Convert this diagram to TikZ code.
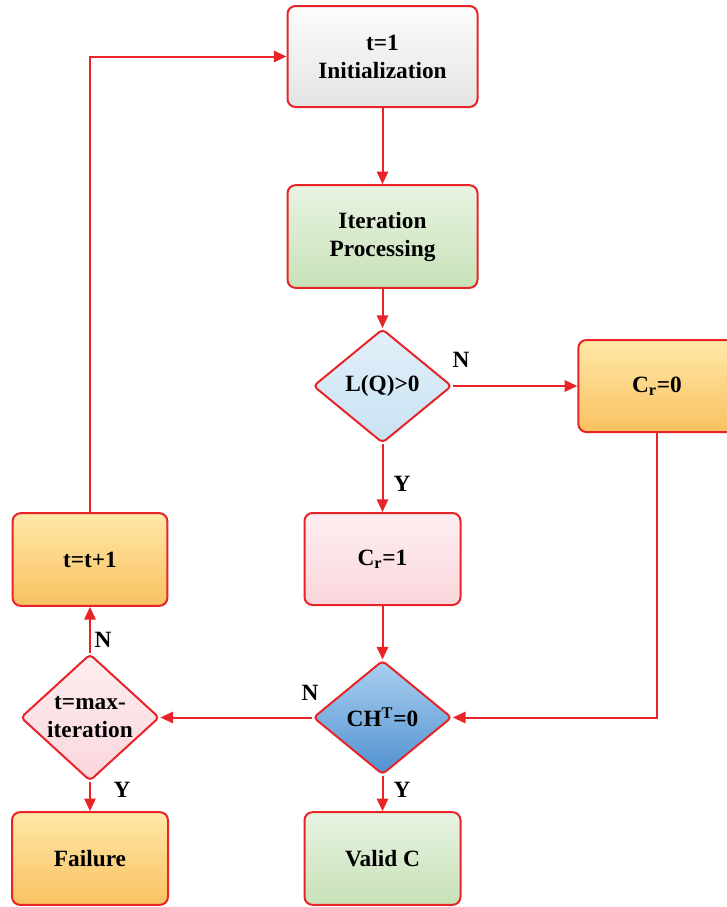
\documentclass[tikz,border=0pt]{standalone}
\usepackage{fontspec}
\setmainfont{Liberation Serif}
\usetikzlibrary{shapes.geometric,arrows.meta}

\definecolor{lnred}{RGB}{232,36,40}
\definecolor{grayT}{RGB}{252,252,252}
\definecolor{grayB}{RGB}{228,228,228}
\definecolor{greenT}{RGB}{232,243,226}
\definecolor{greenB}{RGB}{200,226,184}
\definecolor{orangeT}{RGB}{255,232,168}
\definecolor{orangeB}{RGB}{249,193,96}
\definecolor{pinkT}{RGB}{253,238,240}
\definecolor{pinkB}{RGB}{250,214,220}
\definecolor{lblueT}{RGB}{226,240,250}
\definecolor{lblueB}{RGB}{200,226,242}
\definecolor{dblueT}{RGB}{170,208,240}
\definecolor{dblueB}{RGB}{80,145,208}

\tikzset{
	box/.style={draw=lnred, line width=1.5pt, rounded corners=6pt, align=center, inner sep=0pt, font=\fontsize{17.5}{21}\selectfont\bfseries},
	decision/.style={diamond, draw=lnred, line width=1.5pt, rounded corners=3pt, align=center, inner sep=0pt, minimum width=104pt, minimum height=85.5pt, font=\fontsize{17.5}{21}\selectfont\bfseries},
	arr/.style={draw=lnred, line width=1.5pt, -{Triangle[length=9.5pt,width=8.5pt]}},
	lbl/.style={inner sep=0pt, font=\fontsize{17.5}{20}\selectfont\bfseries}
}

\begin{document}
\begin{tikzpicture}[x=0.75pt,y=0.75pt,yscale=-1]
	\useasboundingbox (0,0) rectangle (726,907);
	
	% Boxes
	\node[box, top color=grayT, bottom color=grayB, minimum width=142.5pt, minimum height=75.75pt] (init) at (382.5,56.5) {t=1\\Initialization};
	\node[box, top color=greenT, bottom color=greenB, minimum width=142.5pt, minimum height=77pt] (iter) at (382.5,236.5) {Iteration\\Processing};
	\node[box, top color=orangeT, bottom color=orangeB, minimum width=118pt, minimum height=69pt] (cr0) at (657,386) {C\textsubscript{r}=0};
	\node[box, top color=pinkT, bottom color=pinkB, minimum width=117pt, minimum height=69pt] (cr1) at (382.5,559) {C\textsubscript{r}=1};
	\node[box, top color=orangeT, bottom color=orangeB, minimum width=116pt, minimum height=69.5pt] (tinc) at (90,559.5) {t=t+1};
	\node[box, top color=orangeT, bottom color=orangeB, minimum width=117pt, minimum height=69.5pt] (fail) at (90,858.5) {Failure};
	\node[box, top color=greenT, bottom color=greenB, minimum width=117pt, minimum height=69.5pt] (valid) at (382.5,858.5) {Valid C};
	
	% Decisions
	\node[decision, top color=lblueT, bottom color=lblueB] (lq) at (382.5,386) {L(Q)>0};
	\node[decision, top color=dblueT, bottom color=dblueB] (ch) at (382.5,717.5) {CH\textsuperscript{T}=0};
	\node[decision, top color=pinkT, bottom color=pinkB] (tmax) at (90,717.5) {t=max-\\iteration};
	
	% Connectors
	\draw[arr] (init) -- (iter);
	\draw[arr] (iter) -- (lq);
	\draw[arr] (lq) -- (cr0);
	\draw[arr] (lq) -- (cr1);
	\draw[arr] (cr1) -- (ch);
	\draw[arr] (cr0.south) |- (ch.east);
	\draw[arr] (ch) -- (tmax);
	\draw[arr] (ch) -- (valid);
	\draw[arr] (tmax) -- (tinc);
	\draw[arr] (tmax) -- (fail);
	\draw[arr] (tinc.north) |- (init.west);
	
	% Text Node
	\node[lbl] (nlq) at (461,360) {N};
	\node[lbl] (ylq) at (402,484) {Y};
	\node[lbl] (nch) at (310,693) {N};
	\node[lbl] (ych) at (402,790) {Y};
	\node[lbl] (ntm) at (103,640) {N};
	\node[lbl] (ytm) at (122,790) {Y};
\end{tikzpicture}
\end{document}
